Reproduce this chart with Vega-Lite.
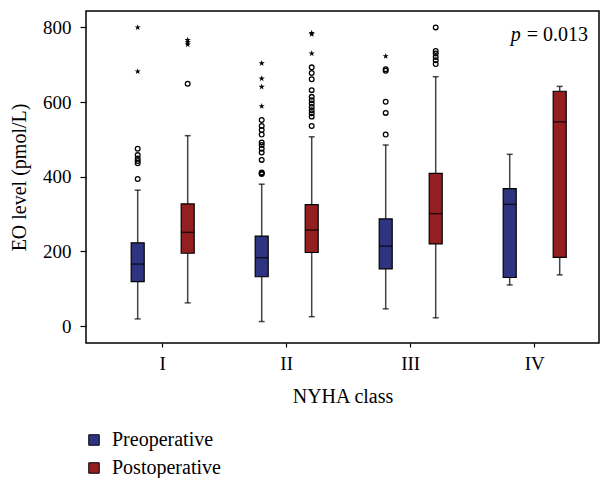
{
  "$schema": "https://vega.github.io/schema/vega-lite/v6.json",
  "width": 513,
  "height": 332,
  "autosize": {"type": "none"},
  "padding": {"left": 86, "top": 11, "right": 7, "bottom": 135},
  "background": "white",
  "config": {
    "view": {"stroke": "black", "strokeWidth": 1.5},
    "font": "Liberation Serif",
    "axis": {"grid": false, "domain": false, "tickColor": "black", "tickWidth": 1.2, "labelColor": "black", "labelFontSize": 19, "labelFontWeight": "normal", "titleColor": "black", "titleFontSize": 20, "titleFontWeight": "normal", "labelFont": "Liberation Serif", "titleFont": "Liberation Serif"}
  },
  "datasets": {
    "boxes": [
      {"cls": "I", "grp": "Preoperative", "q1": 119, "med": 166, "q3": 223, "lo": 19, "hi": 364},
      {"cls": "I", "grp": "Postoperative", "q1": 195, "med": 251, "q3": 327, "lo": 62, "hi": 510},
      {"cls": "II", "grp": "Preoperative", "q1": 132, "med": 183, "q3": 241, "lo": 12, "hi": 380},
      {"cls": "II", "grp": "Postoperative", "q1": 197, "med": 257, "q3": 325, "lo": 25, "hi": 507},
      {"cls": "III", "grp": "Preoperative", "q1": 153, "med": 214, "q3": 287, "lo": 46, "hi": 485},
      {"cls": "III", "grp": "Postoperative", "q1": 220, "med": 301, "q3": 409, "lo": 22, "hi": 668},
      {"cls": "IV", "grp": "Preoperative", "q1": 130, "med": 326, "q3": 368, "lo": 110, "hi": 460},
      {"cls": "IV", "grp": "Postoperative", "q1": 184, "med": 547, "q3": 629, "lo": 137, "hi": 642}
    ],
    "outliers": [
      {"cls": "I", "grp": "Preoperative", "v": 394, "kind": "o"},
      {"cls": "I", "grp": "Preoperative", "v": 436, "kind": "o"},
      {"cls": "I", "grp": "Preoperative", "v": 442, "kind": "o"},
      {"cls": "I", "grp": "Preoperative", "v": 449, "kind": "o"},
      {"cls": "I", "grp": "Preoperative", "v": 458, "kind": "o"},
      {"cls": "I", "grp": "Preoperative", "v": 475, "kind": "o"},
      {"cls": "I", "grp": "Preoperative", "v": 682, "kind": "*"},
      {"cls": "I", "grp": "Preoperative", "v": 800, "kind": "*"},
      {"cls": "I", "grp": "Postoperative", "v": 649, "kind": "o"},
      {"cls": "I", "grp": "Postoperative", "v": 754, "kind": "*"},
      {"cls": "I", "grp": "Postoperative", "v": 760, "kind": "*"},
      {"cls": "I", "grp": "Postoperative", "v": 766, "kind": "*"},
      {"cls": "II", "grp": "Preoperative", "v": 407, "kind": "o"},
      {"cls": "II", "grp": "Preoperative", "v": 409, "kind": "o"},
      {"cls": "II", "grp": "Preoperative", "v": 411, "kind": "o"},
      {"cls": "II", "grp": "Preoperative", "v": 445, "kind": "o"},
      {"cls": "II", "grp": "Preoperative", "v": 465, "kind": "o"},
      {"cls": "II", "grp": "Preoperative", "v": 475, "kind": "o"},
      {"cls": "II", "grp": "Preoperative", "v": 485, "kind": "o"},
      {"cls": "II", "grp": "Preoperative", "v": 492, "kind": "o"},
      {"cls": "II", "grp": "Preoperative", "v": 513, "kind": "o"},
      {"cls": "II", "grp": "Preoperative", "v": 525, "kind": "o"},
      {"cls": "II", "grp": "Preoperative", "v": 536, "kind": "o"},
      {"cls": "II", "grp": "Preoperative", "v": 552, "kind": "o"},
      {"cls": "II", "grp": "Preoperative", "v": 589, "kind": "*"},
      {"cls": "II", "grp": "Preoperative", "v": 641, "kind": "*"},
      {"cls": "II", "grp": "Preoperative", "v": 663, "kind": "*"},
      {"cls": "II", "grp": "Preoperative", "v": 704, "kind": "*"},
      {"cls": "II", "grp": "Postoperative", "v": 536, "kind": "o"},
      {"cls": "II", "grp": "Postoperative", "v": 561, "kind": "o"},
      {"cls": "II", "grp": "Postoperative", "v": 570, "kind": "o"},
      {"cls": "II", "grp": "Postoperative", "v": 578, "kind": "o"},
      {"cls": "II", "grp": "Postoperative", "v": 587, "kind": "o"},
      {"cls": "II", "grp": "Postoperative", "v": 596, "kind": "o"},
      {"cls": "II", "grp": "Postoperative", "v": 605, "kind": "o"},
      {"cls": "II", "grp": "Postoperative", "v": 614, "kind": "o"},
      {"cls": "II", "grp": "Postoperative", "v": 632, "kind": "o"},
      {"cls": "II", "grp": "Postoperative", "v": 661, "kind": "o"},
      {"cls": "II", "grp": "Postoperative", "v": 678, "kind": "o"},
      {"cls": "II", "grp": "Postoperative", "v": 693, "kind": "o"},
      {"cls": "II", "grp": "Postoperative", "v": 730, "kind": "*"},
      {"cls": "II", "grp": "Postoperative", "v": 782, "kind": "*"},
      {"cls": "II", "grp": "Postoperative", "v": 785, "kind": "*"},
      {"cls": "III", "grp": "Preoperative", "v": 513, "kind": "o"},
      {"cls": "III", "grp": "Preoperative", "v": 571, "kind": "o"},
      {"cls": "III", "grp": "Preoperative", "v": 601, "kind": "o"},
      {"cls": "III", "grp": "Preoperative", "v": 684, "kind": "o"},
      {"cls": "III", "grp": "Preoperative", "v": 688, "kind": "o"},
      {"cls": "III", "grp": "Preoperative", "v": 723, "kind": "*"},
      {"cls": "III", "grp": "Postoperative", "v": 702, "kind": "o"},
      {"cls": "III", "grp": "Postoperative", "v": 712, "kind": "o"},
      {"cls": "III", "grp": "Postoperative", "v": 721, "kind": "o"},
      {"cls": "III", "grp": "Postoperative", "v": 730, "kind": "o"},
      {"cls": "III", "grp": "Postoperative", "v": 737, "kind": "o"},
      {"cls": "III", "grp": "Postoperative", "v": 800, "kind": "o"}
    ],
    "note": [
      {"cls": "IV", "grp": "Postoperative", "v": 780, "p": "p", "rest": "= 0.013"}
    ]
  },
  "encoding": {
    "x": {
      "field": "cls", "type": "nominal",
      "scale": {"domain": ["I", "II", "III", "IV"], "paddingInner": 0, "paddingOuter": 0.0685, "align": 0.865},
      "axis": {"title": "NYHA class", "labelAngle": 0, "tickSize": 4, "labelPadding": 7, "titlePadding": 13}
    },
    "xOffset": {
      "field": "grp", "type": "nominal",
      "scale": {"domain": ["Preoperative", "Postoperative"], "paddingInner": 0, "paddingOuter": 0.24}
    }
  },
  "layer": [
    {
      "data": {"name": "boxes"},
      "mark": {"type": "rule", "color": "#444444", "strokeWidth": 1.5},
      "encoding": {
        "y": {"field": "lo", "type": "quantitative", "scale": {"domain": [-45.5, 844], "nice": false, "zero": false},
          "axis": {"title": "EO level (pmol/L)", "values": [0, 200, 400, 600, 800], "tickSize": 6, "labelPadding": 9, "titlePadding": 13}},
        "y2": {"field": "q1"}
      }
    },
    {
      "data": {"name": "boxes"},
      "mark": {"type": "rule", "color": "#444444", "strokeWidth": 1.5},
      "encoding": {"y": {"field": "q3", "type": "quantitative"}, "y2": {"field": "hi"}}
    },
    {
      "data": {"name": "boxes"},
      "mark": {"type": "tick", "color": "black", "size": 6, "thickness": 1.5},
      "encoding": {"y": {"field": "lo", "type": "quantitative"}}
    },
    {
      "data": {"name": "boxes"},
      "mark": {"type": "tick", "color": "black", "size": 6, "thickness": 1.5},
      "encoding": {"y": {"field": "hi", "type": "quantitative"}}
    },
    {
      "data": {"name": "boxes"},
      "mark": {"type": "bar", "width": 13, "stroke": "black", "strokeWidth": 1.2, "opacity": 1},
      "encoding": {
        "y": {"field": "q1", "type": "quantitative"},
        "y2": {"field": "q3"},
        "color": {
          "field": "grp", "type": "nominal",
          "scale": {"domain": ["Preoperative", "Postoperative"], "range": ["#2f3480", "#931f21"]},
          "legend": {"title": null, "orient": "none", "legendX": -2, "legendY": 419, "direction": "vertical",
            "symbolType": "square", "symbolSize": 110, "symbolStrokeColor": "black", "symbolStrokeWidth": 1,
            "symbolOpacity": 1, "labelFontSize": 20, "labelColor": "black", "labelFont": "Liberation Serif",
            "labelOffset": 8, "rowPadding": 8, "padding": 0}
        }
      }
    },
    {
      "data": {"name": "boxes"},
      "mark": {"type": "tick", "color": "black", "size": 13, "thickness": 1.5},
      "encoding": {"y": {"field": "med", "type": "quantitative"}}
    },
    {
      "data": {"name": "outliers"},
      "transform": [{"filter": "datum.kind === 'o'"}],
      "mark": {"type": "point", "shape": "circle", "filled": false, "stroke": "black", "strokeWidth": 1.3, "size": 22, "opacity": 1},
      "encoding": {"y": {"field": "v", "type": "quantitative"}}
    },
    {
      "data": {"name": "outliers"},
      "transform": [{"filter": "datum.kind === '*'"}],
      "mark": {"type": "point", "shape": "M0,-1L0.2245,-0.309L0.951,-0.309L0.363,0.118L0.588,0.809L0,0.382L-0.588,0.809L-0.363,0.118L-0.951,-0.309L-0.2245,-0.309Z", "filled": true, "color": "black", "size": 42, "opacity": 1},
      "encoding": {"y": {"field": "v", "type": "quantitative"}}
    },
    {
      "data": {"name": "note"},
      "mark": {"type": "text", "align": "right", "baseline": "middle", "dx": -39, "fontSize": 20, "fontStyle": "italic", "font": "Liberation Serif", "color": "black"},
      "encoding": {"y": {"field": "v", "type": "quantitative"}, "text": {"field": "p"}}
    },
    {
      "data": {"name": "note"},
      "mark": {"type": "text", "align": "left", "baseline": "middle", "dx": -33, "fontSize": 20, "font": "Liberation Serif", "color": "black"},
      "encoding": {"y": {"field": "v", "type": "quantitative"}, "text": {"field": "rest"}}
    }
  ]
}
